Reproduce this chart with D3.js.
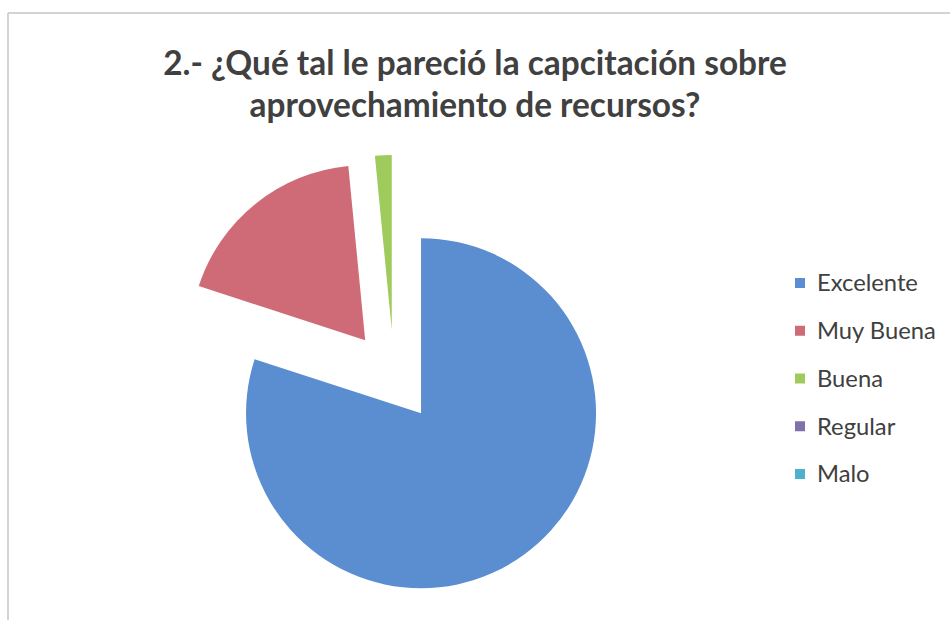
<!DOCTYPE html>
<html>
<head>
<meta charset="utf-8">
<script src="https://cdn.jsdelivr.net/npm/d3@7"></script>
<style>
html,body{margin:0;padding:0;background:#fff;}
svg{display:block;}
</style>
</head>
<body>
<svg id="chart" width="950" height="620"></svg>
<script>
const titleLines = ["2.- ¿Qué tal le pareció la capcitación sobre", "aprovechamiento de recursos?"];
const categories = ["Excelente", "Muy Buena", "Buena", "Regular", "Malo"];
const values = [52, 12, 1, 0, 0];
const colors = ["#5b8ed0", "#cf6b77", "#9ecb5c", "#8270ad", "#4fb0c9"];

const svg = d3.select("#chart");
const W = 950, H = 620;

// frame
svg.append("line").attr("x1", 8).attr("y1", 13).attr("x2", W).attr("y2", 13)
  .attr("stroke", "#c4c4c4").attr("stroke-width", 1.5);
svg.append("line").attr("x1", 8).attr("y1", 13).attr("x2", 8).attr("y2", H)
  .attr("stroke", "#c4c4c4").attr("stroke-width", 1.5);

// title
const titleFont = "Lato, 'Open Sans', sans-serif";
const tl1 = svg.append("text").attr("x", 475).attr("y", 75)
  .attr("text-anchor", "middle").attr("font-family", titleFont)
  .attr("font-weight", "bold").attr("font-size", 30).attr("fill", "#404040")
  .text(titleLines[0]);
const w1 = tl1.node().getComputedTextLength();
const fs = 30 * 624 / w1;
tl1.attr("font-size", fs);
svg.append("text").attr("x", 475).attr("y", 117)
  .attr("text-anchor", "middle").attr("font-family", titleFont)
  .attr("font-weight", "bold").attr("font-size", fs).attr("fill", "#404040")
  .text(titleLines[1]);

// pie
const cx = 394, cy = 376, R = 175, explode = 46;
const pie = d3.pie().sort(null).value(d => d).startAngle(0).endAngle(2 * Math.PI);
const arc = d3.arc().innerRadius(0).outerRadius(R);
const arcs = pie(values);
const g = svg.append("g").attr("transform", `translate(${cx},${cy})`);
g.selectAll("path").data(arcs.filter(d => d.value > 0)).enter().append("path")
  .attr("d", arc)
  .attr("fill", (d) => colors[d.index])
  .attr("transform", d => {
    const a = (d.startAngle + d.endAngle) / 2;
    return `translate(${Math.sin(a) * explode},${-Math.cos(a) * explode})`;
  });

// legend
const legendFont = "Lato, 'Open Sans', sans-serif";
const lg = svg.append("g");
const ly = d3.scalePoint().domain(categories).range([283, 474]);
const rows = lg.selectAll("g").data(categories).enter().append("g")
  .attr("transform", d => `translate(795,${ly(d)})`);
rows.append("rect").attr("x", 0).attr("y", -5).attr("width", 10).attr("height", 10)
  .attr("fill", (d, i) => colors[i]);
const lt = rows.append("text").attr("x", 22).attr("y", 0).attr("dy", "0.35em")
  .attr("font-family", legendFont).attr("font-size", 19).attr("fill", "#404040")
  .text(d => d);
const wEx = lt.filter((d, i) => i === 0).node().getComputedTextLength();
lt.attr("font-size", 19 * 101 / wEx);
</script>
</body>
</html>
